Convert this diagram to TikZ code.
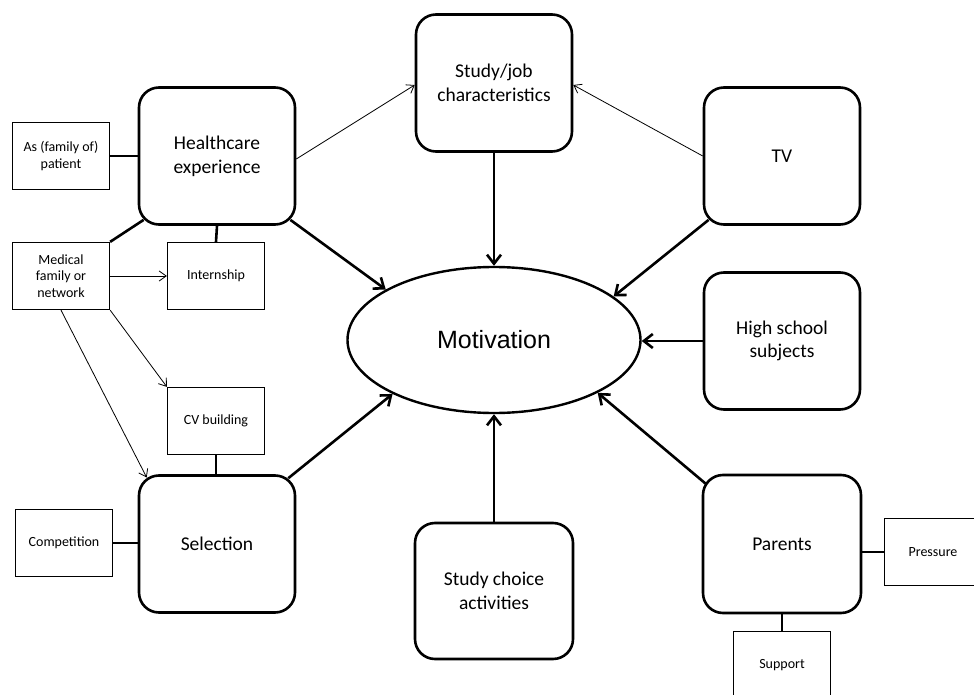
\documentclass[tikz,border=0pt]{standalone}
\usepackage{fontspec}
\setmainfont{Carlito}
\newfontfamily\arialfont{Liberation Sans}
\usetikzlibrary{arrows.meta,calc,shapes.geometric}
\begin{document}
\begin{tikzpicture}[x=1pt,y=-1pt,
  bigbox/.style={draw, line width=2.6pt, rounded corners=20pt, minimum width=156pt, minimum height=137pt, inner sep=0pt, align=center, font=\fontsize{19.5}{23.7}\selectfont},
  smallbox/.style={draw, line width=1.3pt, minimum width=97pt, minimum height=67pt, inner sep=0pt, align=center, font=\fontsize{14}{16.5}\selectfont},
  thickarr/.style={line width=2.6pt, -{Straight Barb[length=9pt,width=14pt]}},
  thinarr/.style={line width=0.8pt, -{Straight Barb[length=7pt,width=10pt]}},
  thickline/.style={line width=2.6pt},
]
\useasboundingbox (0,0) rectangle (974,695);
\clip (0,0) rectangle (974,695);

% main boxes
\node[bigbox] (sj) at (494,83) {Study/job\\characteristics};
\node[bigbox] (hc) at (217,156) {Healthcare\\experience};
\node[bigbox] (tv) at (782,156) {TV};
\node[bigbox] (hs) at (782,341) {High school\\subjects};
\node[bigbox, minimum width=158pt, minimum height=138pt] (par) at (782,544) {Parents};
\node[bigbox, minimum width=158pt, minimum height=136pt] (sca) at (494,591) {Study choice\\activities};
\node[bigbox] (sel) at (217,544) {Selection};
\node[draw, ellipse, line width=2.4pt, minimum width=293pt, minimum height=146pt, inner sep=0pt,
      font=\arialfont\fontsize{25}{30}\selectfont] (mot) at (494,340) {Motivation};

% small boxes
\node[smallbox] (asp) at (61,156) {As (family of)\\patient};
\node[smallbox] (med) at (61,276) {Medical\\family or\\network};
\node[smallbox] (int) at (216,276) {Internship};
\node[smallbox] (cv) at (216,421) {CV building};
\node[smallbox] (comp) at (64,543) {Competition};
\node[smallbox] (pres) at (933,552) {Pressure};
\node[smallbox] (sup) at (782,665) {Support};

% plain thick links
\draw[thickline] (asp.east) -- (asp.east -| hc.west);
\draw[thickline] (med.north east) -- ($(hc.south west)+(5.9,-5.9)$);
\draw[thickline] (hc.south) -- (int.north);
\draw[thickline] (cv.south) -- (cv.south |- sel.north);
\draw[thickline] (comp.east) -- (comp.east -| sel.west);
\draw[thickline] (pres.west) -- (pres.west -| par.east);
\draw[thickline] (par.south) -- (par.south |- sup.north);

% thick arrows into Motivation
\draw[thickarr] (sj.south) -- (mot.90);
\draw[thickarr] ($(hc.south east)+(-5.9,-5.9)$) -- (mot.155);
\draw[thickarr] ($(tv.south west)+(5.9,-5.9)$) -- (mot.20);
\draw[thickarr] (hs.west) -- (hs.west -| mot.east);
\draw[thickarr] ($(par.north west)+(4,10)$) -- (mot.-27);
\draw[thickarr] (sca.north) -- (mot.-90);
\draw[thickarr] ($(sel.north east)+(-8,4)$) -- (mot.-152);

% thin arrows
\draw[thinarr] ($(hc.east)+(0,3)$) -- ($(sj.west)+(0,2)$);
\draw[thinarr] (tv.west) -- ($(sj.east)+(0,2)$);
\draw[thinarr] (med.east) -- (int.west);
\draw[thinarr] (med.south east) -- (cv.north west);
\draw[thinarr] (med.south) -- ($(sel.north west)+(9,3.3)$);
\end{tikzpicture}
\end{document}
